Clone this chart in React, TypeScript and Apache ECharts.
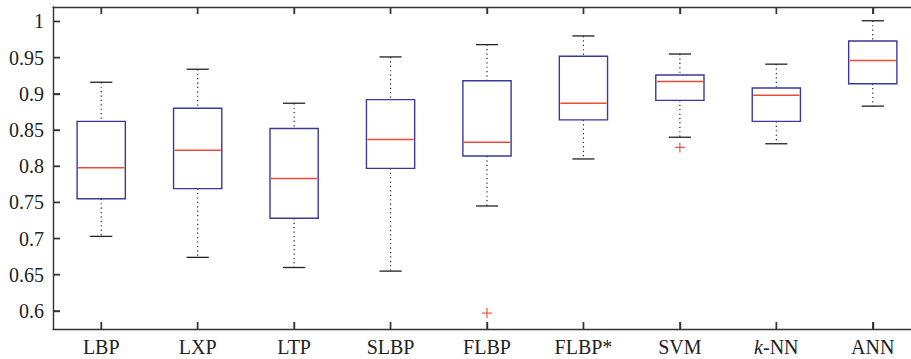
import React, { useEffect, useRef } from "react";
import * as echarts from "echarts";

const categories = ["LBP", "LXP", "LTP", "SLBP", "FLBP", "FLBP*", "SVM", "k-NN", "ANN"];
const lowerWhisker = [0.703, 0.674, 0.66, 0.655, 0.745, 0.81, 0.84, 0.831, 0.883];
const q1 = [0.755, 0.769, 0.728, 0.797, 0.814, 0.864, 0.891, 0.862, 0.914];
const median = [0.798, 0.822, 0.783, 0.837, 0.833, 0.887, 0.917, 0.898, 0.946];
const q3 = [0.862, 0.88, 0.852, 0.892, 0.918, 0.952, 0.926, 0.908, 0.973];
const upperWhisker = [0.916, 0.934, 0.887, 0.951, 0.968, 0.98, 0.955, 0.941, 1.001];
const outlierCategory = [4, 6];
const outlierValue = [0.597, 0.826];
const yTicks = [0.6, 0.65, 0.7, 0.75, 0.8, 0.85, 0.9, 0.95, 1];

const FONT = "Liberation Serif";
const AXIS_COLOR = "#333333";
const BOX_COLOR = "#3c389c";
const MED_COLOR = "#ee4a35";
const Y_MIN = 0.575;
const Y_MAX = 1.02;

export default function App() {
  const ref = useRef<HTMLDivElement>(null);
  useEffect(() => {
    if (!ref.current) return;
    const chart = echarts.init(ref.current, null, { renderer: "svg" });
    const boxData = categories.map((_, i) => [i, lowerWhisker[i], q1[i], median[i], q3[i], upperWhisker[i]]);
    const outData = outlierCategory.map((c, i) => [c, outlierValue[i]]);
    const mkLine = () => ({ show: true, onZero: false, lineStyle: { color: AXIS_COLOR, width: 1.4 } });
    const mkTick = (extra: any = {}) => ({ show: true, inside: true, length: 7, lineStyle: { color: AXIS_COLOR, width: 1.4 }, ...extra });
    chart.setOption({
      animation: false,
      grid: { left: 53, right: 0, top: 7, bottom: 30, containLabel: false },
      xAxis: [
        {
          type: "category",
          data: categories,
          position: "bottom",
          axisLine: mkLine(),
          axisTick: mkTick({ alignWithLabel: true, interval: 0 }),
          axisLabel: {
            interval: 0,
            margin: 8,
            fontFamily: FONT,
            fontSize: 20,
            color: "#222",
            formatter: (v: string) => (v === "k-NN" ? "{i|k}{n|-NN}" : "{n|" + v + "}"),
            rich: {
              i: { fontFamily: FONT, fontSize: 20, fontStyle: "italic", color: "#222" },
              n: { fontFamily: FONT, fontSize: 20, color: "#222" },
            },
          },
          splitLine: { show: false },
        },
        {
          type: "category",
          data: categories,
          position: "top",
          axisLine: mkLine(),
          axisTick: mkTick({ alignWithLabel: true, interval: 0 }),
          axisLabel: { show: false },
          splitLine: { show: false },
        },
      ],
      yAxis: [
        {
          type: "value",
          min: Y_MIN,
          max: Y_MAX,
          position: "left",
          axisLine: mkLine(),
          splitLine: { show: false },
          axisTick: mkTick({ customValues: yTicks }),
          axisLabel: {
            customValues: yTicks,
            margin: 9,
            fontFamily: FONT,
            fontSize: 20,
            color: "#222",
            formatter: (v: number) => String(Math.round(v * 100) / 100),
          },
        },
        {
          type: "value",
          min: Y_MIN,
          max: Y_MAX,
          position: "right",
          axisLine: mkLine(),
          splitLine: { show: false },
          axisTick: mkTick({ customValues: yTicks }),
          axisLabel: { show: false },
        },
      ],
      series: [
        {
          type: "custom",
          xAxisIndex: 0,
          yAxisIndex: 0,
          clip: false,
          z: 5,
          encode: { x: 0, y: [1, 2, 3, 4, 5] },
          data: boxData,
          renderItem: (params: any, api: any) => {
            const i = api.value(0);
            const lo = api.coord([i, api.value(1)]);
            const b1 = api.coord([i, api.value(2)]);
            const md = api.coord([i, api.value(3)]);
            const b3 = api.coord([i, api.value(4)]);
            const hi = api.coord([i, api.value(5)]);
            const band = api.size([1, 0])[0];
            const bw = band * 0.5;
            const cw = band * 0.23;
            const cx = md[0];
            const top = api.coord([i, Y_MAX])[1];
            const bot = api.coord([i, Y_MIN])[1];
            const leftX = cx - band * (i + 0.5);
            const rightX = cx + band * (categories.length - i - 0.5);
            const dotted = { stroke: "#222", lineWidth: 1.2, lineDash: [1.2, 3.2] };
            const solid = { stroke: "#222", lineWidth: 1.3 };
            const tk = { stroke: AXIS_COLOR, lineWidth: 1.4 };
            const children: any[] = [
              { type: "line", shape: { x1: cx, y1: bot, x2: cx, y2: bot - 7 }, style: tk },
              { type: "line", shape: { x1: cx, y1: top, x2: cx, y2: top + 7 }, style: tk },
              { type: "line", shape: { x1: cx, y1: hi[1], x2: cx, y2: b3[1] }, style: dotted },
              { type: "line", shape: { x1: cx, y1: b1[1], x2: cx, y2: lo[1] }, style: dotted },
              { type: "line", shape: { x1: cx - cw / 2, y1: hi[1], x2: cx + cw / 2, y2: hi[1] }, style: solid },
              { type: "line", shape: { x1: cx - cw / 2, y1: lo[1], x2: cx + cw / 2, y2: lo[1] }, style: solid },
              {
                type: "rect",
                shape: { x: cx - bw / 2, y: b3[1], width: bw, height: b1[1] - b3[1] },
                style: { fill: "none", stroke: BOX_COLOR, lineWidth: 1.4 },
              },
              { type: "line", shape: { x1: cx - bw / 2 + 1, y1: md[1], x2: cx + bw / 2 - 1, y2: md[1] }, style: { stroke: MED_COLOR, lineWidth: 1.5 } },
            ];
            if (i === 0) {
              yTicks.forEach((t) => {
                const y = api.coord([0, t])[1];
                children.push({ type: "line", shape: { x1: leftX, y1: y, x2: leftX + 7, y2: y }, style: tk });
                children.push({ type: "line", shape: { x1: rightX, y1: y, x2: rightX - 7, y2: y }, style: tk });
              });
            }
            return { type: "group", children };
          },
        },
        {
          type: "custom",
          xAxisIndex: 0,
          yAxisIndex: 0,
          encode: { x: 0, y: 1 },
          data: outData,
          renderItem: (params: any, api: any) => {
            const p = api.coord([api.value(0), api.value(1)]);
            const s = 5;
            const st = { stroke: MED_COLOR, lineWidth: 1.1 };
            return {
              type: "group",
              children: [
                { type: "line", shape: { x1: p[0] - s, y1: p[1], x2: p[0] + s, y2: p[1] }, style: st },
                { type: "line", shape: { x1: p[0], y1: p[1] - s, x2: p[0], y2: p[1] + s }, style: st },
              ],
            };
          },
        },
      ],
    });
    return () => chart.dispose();
  }, []);
  return <div ref={ref} style={{ position: "fixed", left: 0, top: 0, width: 921, height: 359, background: "#ffffff" }} />;
}
